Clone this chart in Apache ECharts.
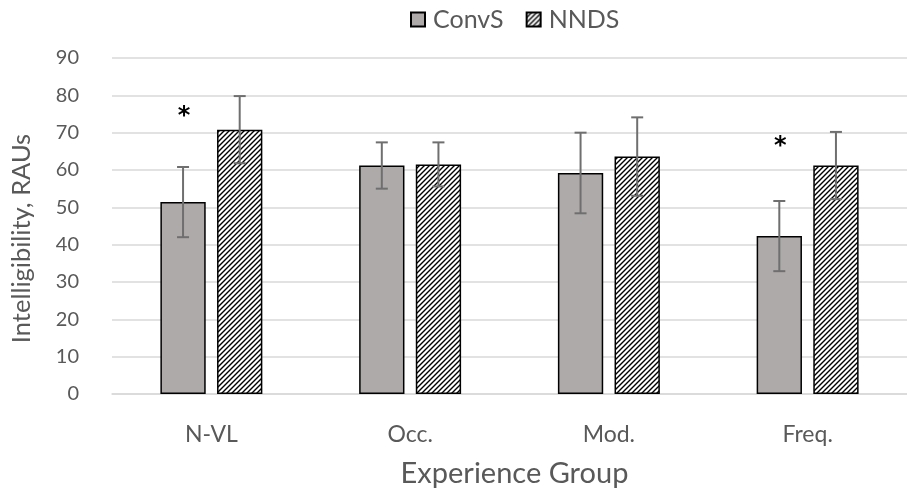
<!DOCTYPE html>
<html>
<head>
<meta charset="utf-8">
<script src="https://cdn.jsdelivr.net/npm/echarts@6/dist/echarts.min.js"></script>
<style>
html,body{margin:0;padding:0;background:#fff;}
#chart{width:907px;height:491px;}
</style>
</head>
<body>
<div id="chart"></div>
<script>
// ---- data ----
const categories = ['N-VL', 'Occ.', 'Mod.', 'Freq.'];
const seriesNames = ['ConvS', 'NNDS'];
const convS = [51.4, 61.2, 59.2, 42.3];
const convSErr = [9.4, 6.2, 10.8, 9.4];
const nnds = [70.8, 61.5, 63.6, 61.2];
const nndsErr = [9.0, 5.9, 10.5, 9.0];
const sigMark = [75.7, null, null, 67.6]; // '*' above ConvS bar (value position)
const yTicks = [0, 10, 20, 30, 40, 50, 60, 70, 80, 90];

const FONT = 'Lato';
const BAR_FRAC = 0.228, GAP_FRAC = 0.25;

function makeHatch() {
  const s = 5;
  const c = document.createElement('canvas');
  c.width = s; c.height = s;
  const g = c.getContext('2d');
  g.fillStyle = '#fff'; g.fillRect(0, 0, s, s);
  g.strokeStyle = '#000'; g.lineWidth = 1.4;
  g.beginPath();
  g.moveTo(0, s); g.lineTo(s, 0);
  g.moveTo(-1, 1); g.lineTo(1, -1);
  g.moveTo(s - 1, s + 1); g.lineTo(s + 1, s - 1);
  g.stroke();
  return c;
}

function errRender(sign) {
  return function (params, api) {
    const i = api.value(0);
    const lo = api.coord([i, api.value(1)]);
    const hi = api.coord([i, api.value(2)]);
    const band = api.size([1, 0])[0];
    const bw = band * BAR_FRAC, gap = bw * GAP_FRAC;
    const x = lo[0] + sign * (bw + gap) / 2;
    const cap = 6;
    const style = { stroke: '#6f6f6f', lineWidth: 2 };
    return {
      type: 'group', children: [
        { type: 'line', shape: { x1: x, y1: hi[1], x2: x, y2: lo[1] }, style: style },
        { type: 'line', shape: { x1: x - cap, y1: hi[1], x2: x + cap, y2: hi[1] }, style: style },
        { type: 'line', shape: { x1: x - cap, y1: lo[1], x2: x + cap, y2: lo[1] }, style: style }
      ]
    };
  };
}

function sigRender(params, api) {
  const i = api.value(0);
  const p = api.coord([i, api.value(1)]);
  const band = api.size([1, 0])[0];
  const bw = band * BAR_FRAC, gap = bw * GAP_FRAC;
  const x = p[0] - (bw + gap) / 2;
  return {
    type: 'text', x: x + 1, y: p[1] + 5,
    style: { text: '*', fill: '#000', font: 'bold 24px "DejaVu Sans"', align: 'center', verticalAlign: 'middle' }
  };
}

const chart = echarts.init(document.getElementById('chart'), null, { renderer: 'canvas' });
const hatch = makeHatch();

const option = {
  animation: false,
  backgroundColor: '#fff',
  textStyle: { fontFamily: FONT },
  legend: {
    data: seriesNames,
    top: 7,
    left: 410,
    padding: 0,
    itemWidth: 14, itemHeight: 14, itemGap: 22,
    icon: 'rect',
    textStyle: { fontSize: 25, color: '#595959', fontFamily: FONT, padding: [0, 0, 0, 3] }
  },
  grid: { left: 112, top: 58, width: 807, height: 336, containLabel: false },
  xAxis: {
    type: 'category', data: categories,
    axisLine: { show: true, lineStyle: { color: '#d9d9d9', width: 1.5 } },
    axisTick: { show: false },
    axisLabel: { fontSize: 23, color: '#595959', margin: 29, fontFamily: FONT }
  },
  yAxis: {
    type: 'value', min: yTicks[0], max: yTicks[yTicks.length - 1], interval: 10,
    axisLine: { show: false }, axisTick: { show: false },
    splitLine: { lineStyle: { color: '#d9d9d9', width: 1.5 } },
    axisLabel: { fontSize: 20, color: '#595959', margin: 33, fontFamily: FONT }
  },
  graphic: [
    { type: 'text', x: 22, y: 238.5, rotation: Math.PI / 2,
      style: { text: 'Intelligibility, RAUs', fill: '#595959', font: '25.5px ' + FONT, align: 'center', verticalAlign: 'middle' } },
    { type: 'text', x: 514.5, y: 474,
      style: { text: 'Experience Group', fill: '#595959', font: '29px ' + FONT, align: 'center', verticalAlign: 'middle' } }
  ],
  series: [
    { name: seriesNames[0], type: 'bar', data: convS, barWidth: (BAR_FRAC * 100) + '%', barGap: (GAP_FRAC * 100) + '%',
      itemStyle: { color: '#aeaaaa', borderColor: '#000', borderWidth: 1.5 } },
    { name: seriesNames[1], type: 'bar', data: nnds, barWidth: (BAR_FRAC * 100) + '%',
      itemStyle: { color: { image: hatch, repeat: 'repeat' }, borderColor: '#000', borderWidth: 1.5 } },
    { name: 'ConvS err', type: 'custom', renderItem: errRender(-1), z: 5,
      data: convS.map((v, i) => [i, v - convSErr[i], v + convSErr[i]]) },
    { name: 'NNDS err', type: 'custom', renderItem: errRender(1), z: 5,
      data: nnds.map((v, i) => [i, v - nndsErr[i], v + nndsErr[i]]) },
    { name: 'sig', type: 'custom', renderItem: sigRender, z: 6,
      data: sigMark.map((v, i) => v == null ? null : [i, v]).filter(d => d) }
  ]
};
chart.setOption(option);
</script>
</body>
</html>
